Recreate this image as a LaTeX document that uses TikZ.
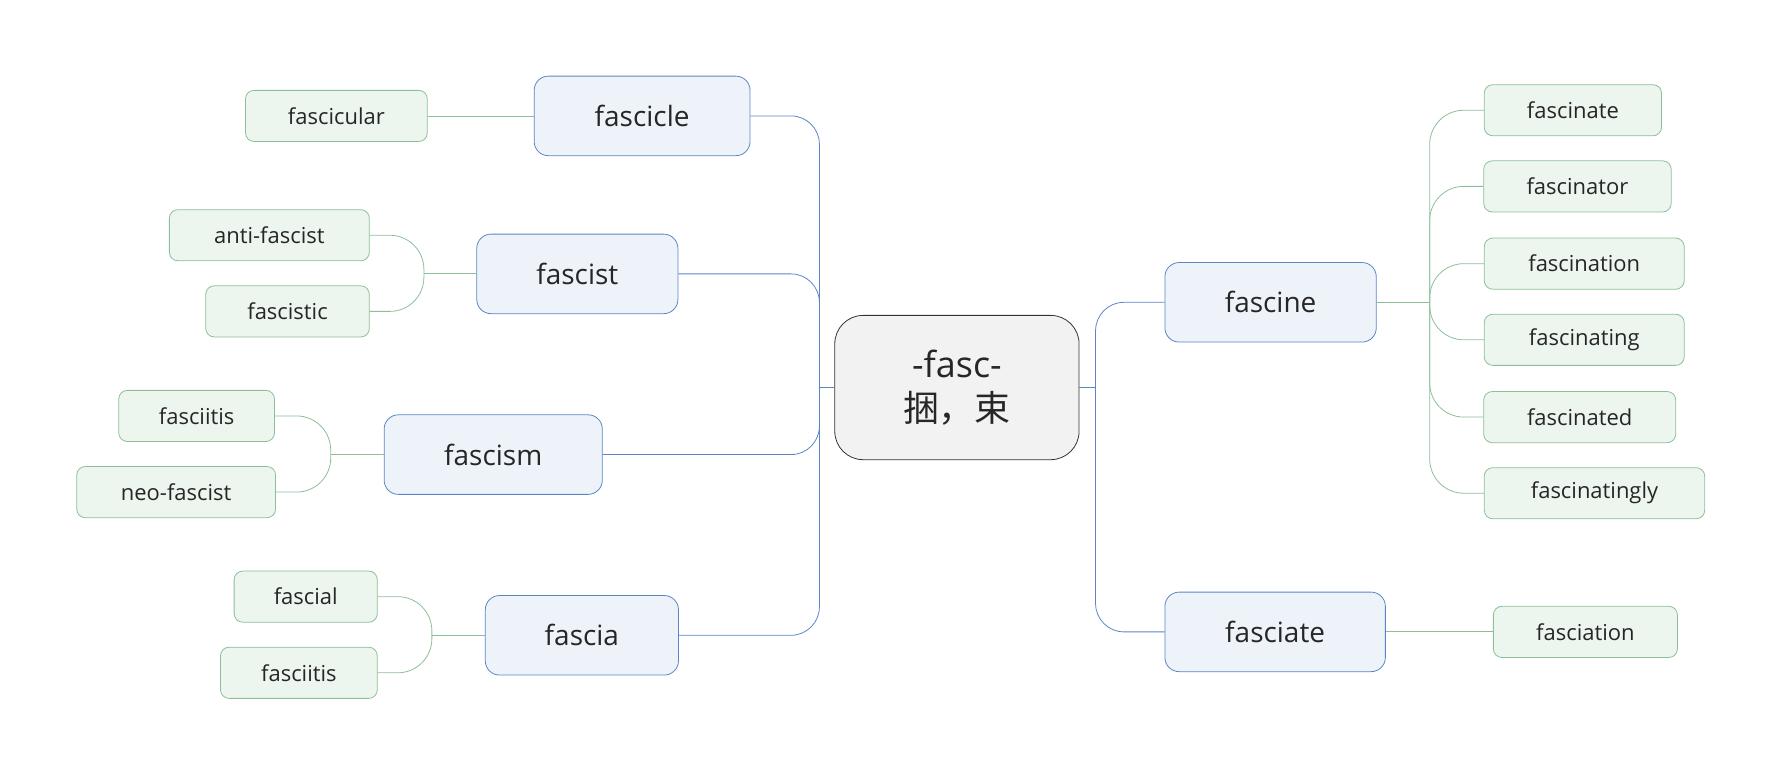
\documentclass[tikz,border=0pt]{standalone}
\usepackage{fontspec}
\setmainfont{Open Sans}
\newfontfamily\cjk{Noto Sans CJK SC}
\usetikzlibrary{positioning, calc}
\definecolor{rootfill}{HTML}{F2F2F2}
\definecolor{topfill}{HTML}{EEF3FA}
\definecolor{topline}{HTML}{5B86C6}
\definecolor{leaffill}{HTML}{EDF5EF}
\definecolor{leafline}{HTML}{8CBF98}
\tikzset{
  rootbox/.style={draw=black!80, fill=rootfill, rounded corners=0.5cm, minimum width=4.3cm, minimum height=2.54cm, align=center, font=\fontsize{18}{22}\selectfont, text=black!85},
  topbox/.style={draw=topline, fill=topfill, rounded corners=0.25cm, minimum height=1.4cm, font=\fontsize{14}{17}\selectfont, text=black!85},
  leafbox/.style={draw=leafline, fill=leaffill, rounded corners=0.15cm, minimum height=0.9cm, font=\fontsize{11}{13}\selectfont, text=black!85},
  topwire/.style={draw=topline, rounded corners=0.5cm},
  leafwire/.style={draw=leafline, rounded corners=0.6cm}
}
\begin{document}
\begin{tikzpicture}[x=0.02cm, y=-0.02cm]
  \useasboundingbox (0,0) rectangle (1568,682);
  % root
  \node[rootbox] (root) at (842,341) {-fasc-\\{\cjk 捆，束}};
  % left branches
  \node[topbox, minimum width=3.8cm] (fascicle) at (565,102) {fascicle};
  \node[topbox, minimum width=3.54cm] (fascist) at (508,241) {fascist};
  \node[topbox, minimum width=3.84cm] (fascism) at (434,400) {fascism};
  \node[topbox, minimum width=3.4cm] (fascia) at (512,559) {fascia};
  % right branches
  \node[topbox, minimum width=3.72cm] (fascine) at (1118,266) {fascine};
  \node[topbox, minimum width=3.88cm] (fasciate) at (1122,556) {fasciate};
  % left leaves
  \node[leafbox, minimum width=3.2cm] (fascicular) at (296,102) {fascicular};
  \node[leafbox, minimum width=3.52cm] (antifascist) at (237,207) {anti-fascist};
  \node[leafbox, minimum width=2.88cm] (fascistic) at (253,274) {fascistic};
  \node[leafbox, minimum width=2.74cm] (fasciitisA) at (173,366) {fasciitis};
  \node[leafbox, minimum width=3.5cm] (neofascist) at (155,433) {neo-fascist};
  \node[leafbox, minimum width=2.52cm] (fascial) at (269,525) {fascial};
  \node[leafbox, minimum width=2.76cm] (fasciitisB) at (263,592) {fasciitis};
  % right leaves
  \node[leafbox, minimum width=3.12cm] (fascinate) at (1384,97) {fascinate};
  \node[leafbox, minimum width=3.3cm] (fascinator) at (1388,164) {fascinator};
  \node[leafbox, minimum width=3.52cm] (fascination) at (1394,232) {fascination};
  \node[leafbox, minimum width=3.52cm] (fascinating) at (1394,299) {fascinating};
  \node[leafbox, minimum width=3.38cm] (fascinated) at (1390,367) {fascinated};
  \node[leafbox, minimum width=3.88cm] (fascinatingly) at (1403,434) {fascinatingly};
  \node[leafbox, minimum width=3.24cm] (fasciation) at (1395,556) {fasciation};
  % junctions
  \coordinate (lj) at (721,341);
  \coordinate (rj) at (964,341);
  \coordinate (jfascist) at (373,241);
  \coordinate (jfascism) at (291,400);
  \coordinate (jfascia) at (380,559);
  \coordinate (jfascine) at (1258,266);
  % root wires
  \draw[topwire] (root.west) -- (lj);
  \draw[topwire] (lj) |- (fascicle.east);
  \draw[topwire] (lj) |- (fascist.east);
  \draw[topwire] (lj) |- (fascism.east);
  \draw[topwire] (lj) |- (fascia.east);
  \draw[topwire] (root.east) -- (rj);
  \draw[topwire] (rj) |- (fascine.west);
  \draw[topwire] (rj) |- (fasciate.west);
  % leaf wires
  \draw[leafwire] (fascicle.west) -- (fascicular.east);
  \draw[leafwire] (fascist.west) -- (jfascist);
  \draw[leafwire] (jfascist) |- (antifascist.east);
  \draw[leafwire] (jfascist) |- (fascistic.east);
  \draw[leafwire] (fascism.west) -- (jfascism);
  \draw[leafwire] (jfascism) |- (fasciitisA.east);
  \draw[leafwire] (jfascism) |- (neofascist.east);
  \draw[leafwire] (fascia.west) -- (jfascia);
  \draw[leafwire] (jfascia) |- (fascial.east);
  \draw[leafwire] (jfascia) |- (fasciitisB.east);
  \draw[leafwire] (fascine.east) -- (jfascine);
  \draw[leafwire] (jfascine) |- (fascinate.west);
  \draw[leafwire] (jfascine) |- (fascinator.west);
  \draw[leafwire] (jfascine) |- (fascination.west);
  \draw[leafwire] (jfascine) |- (fascinating.west);
  \draw[leafwire] (jfascine) |- (fascinated.west);
  \draw[leafwire] (jfascine) |- (fascinatingly.west);
  \draw[leafwire] (fasciate.east) -- (fasciation.west);
\end{tikzpicture}
\end{document}
